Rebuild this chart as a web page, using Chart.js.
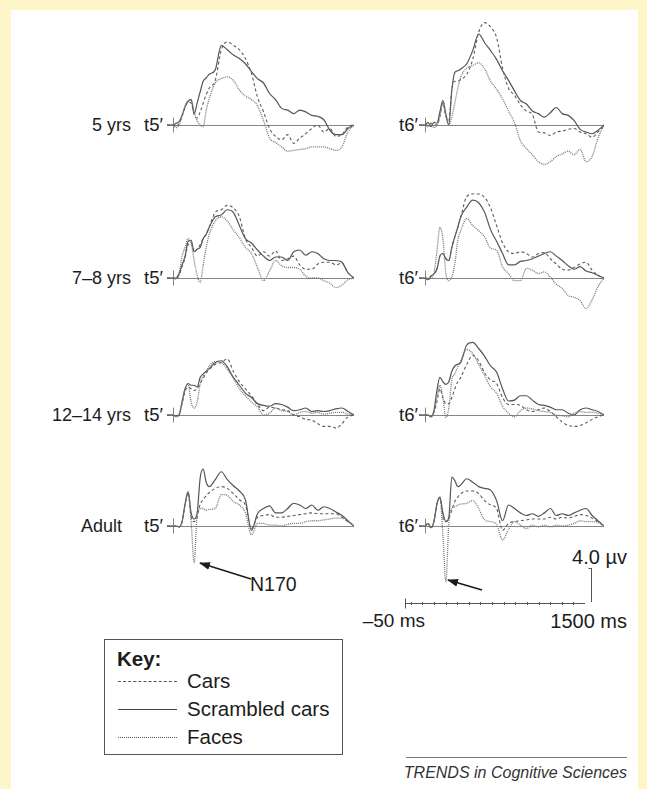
<!DOCTYPE html>
<html><head><meta charset="utf-8">
<script src="https://cdn.jsdelivr.net/npm/chart.js@4.4.1/dist/chart.umd.min.js"></script>
<style>
html,body{margin:0;padding:0;}
body{width:647px;height:789px;background:#fcf6c9;position:relative;overflow:hidden;font-family:"Liberation Sans",Arial,Helvetica,sans-serif;color:#1c1c1c;}
#sheet{position:absolute;left:11px;top:10px;width:627px;height:779px;background:#fff;}
canvas{position:absolute;}
.lbl{position:absolute;line-height:22px;white-space:nowrap;transform:translateY(-50%);}
.lbl.r{transform:translate(-100%,-50%);}
#key{position:absolute;left:104px;top:639px;width:237px;height:114px;border:1px solid #555;}
.keyrow{position:absolute;left:82px;font-size:20.5px;line-height:22px;transform:translateY(-50%);white-space:nowrap;}
.sample{position:absolute;left:13px;width:59px;height:0;}
#trends{position:absolute;left:627px;top:773px;font-size:16px;font-style:italic;color:#333;white-space:nowrap;transform:translate(-100%,-50%);}
#rule{position:absolute;left:406px;top:757px;width:221px;height:0;border-top:1px solid #777;}
svg{position:absolute;left:0;top:0;}
</style></head>
<body>
<div id="sheet"></div>
<div id="labels"></div>
<div id="key">
  <div class="keyrow" style="left:12px;top:19px;font-weight:bold;">Key:</div>
  <div class="sample" style="top:41px;border-top:1px dashed #555;"></div>
  <div class="keyrow" style="top:41px;">Cars</div>
  <div class="sample" style="top:69px;border-top:1.3px solid #444;"></div>
  <div class="keyrow" style="top:69px;">Scrambled cars</div>
  <div class="sample" style="top:97px;border-top:1px dotted #555;"></div>
  <div class="keyrow" style="top:97px;">Faces</div>
</div>
<div id="rule"></div>
<div id="trends">TRENDS in Cognitive Sciences</div>
<svg width="647" height="789">
  <defs><marker id="ah" markerWidth="11" markerHeight="8" refX="10" refY="4" orient="auto" markerUnits="userSpaceOnUse">
    <path d="M0,0 L11,4 L0,8 z" fill="#1c1c1c"/></marker></defs>
  <line x1="251" y1="579" x2="200" y2="563" stroke="#1c1c1c" stroke-width="1.7" marker-end="url(#ah)"/>
  <line x1="482" y1="590" x2="448" y2="580" stroke="#1c1c1c" stroke-width="1.7" marker-end="url(#ah)"/>
</svg>
<script>
// time points (ms)
const times = [-50,0,25,50,75,100,125,150,175,200,225,250,275,300,350,400,450,500,550,600,650,700,750,800,850,900,950,1000,1050,1100,1150,1200,1250,1300,1350,1400,1450,1500];
const rowLabels = ['5 yrs','7–8 yrs','12–14 yrs','Adult'];
const siteLabels = ['t5′','t6′'];
const seriesNames = ['Cars','Scrambled cars','Faces'];
const scaleLabels = ['4.0 µv','–50 ms','1500 ms','N170'];

// 5 yrs, t5'
const cars5T5  = [0,0,-0.2,0.2,1.0,2.0,2.6,2.5,1.2,0.8,1.5,2.5,3.5,4.2,5.1,8.6,9.5,9.1,8.6,7.6,5.9,3.2,1.5,-0.4,-1.3,-1.7,-1.1,-2.1,-1.5,-1.0,-0.4,0,-0.8,-0.4,-1.3,-1.1,-0.2,0];
const scram5T5 = [0,0,0.2,0.4,1.1,2.1,2.7,2.9,1.3,2.5,3.8,5.0,5.4,5.8,6.3,9.1,8.6,8.0,7.6,7.0,6.1,5.3,4.8,3.6,2.9,1.9,1.7,1.3,1.7,1.5,1.1,1.0,0.6,-0.6,-1.1,-1.1,-0.4,0];
const faces5T5 = [0,0,-0.3,0,1.0,2.2,2.8,2.9,1.5,0.5,0,-0.2,1.7,3.0,4.8,5.3,5.5,5.1,4.0,3.3,2.9,2.2,0.5,-1.5,-2.0,-2.5,-3.0,-2.9,-2.8,-2.7,-2.5,-2.5,-2.5,-2.7,-2.9,-2.5,-0.8,0];
// 5 yrs, t6'
const cars5T6  = [0,0,0,0.2,0,0,1.0,2.5,1.0,0.5,4.0,5.0,5.0,5.2,5.8,7.5,10.6,11.7,11.2,10.0,6.5,4.2,3.4,2.3,1.6,1.2,-0.8,-0.9,-1.2,-0.8,-0.7,-0.5,-0.4,-0.8,-1.0,-1.4,-0.8,0];
const scram5T6 = [0,0,0.3,-0.2,0.3,0.2,1.5,2.8,1.2,0,4.0,6.0,6.2,6.4,7.0,8.5,10.4,9.4,8.5,7.5,6.2,5.1,3.9,2.8,2.4,1.6,1.3,0.9,1.4,2.0,1.3,1.1,0.5,-0.5,-0.8,-1.0,-0.6,0];
const faces5T6 = [0,0,-0.2,0.2,-0.3,0,1.0,2.8,1.2,0,0.9,2.5,4.2,5.5,6.5,6.8,7.1,6.4,5.0,4.1,3.0,1.6,0.3,-1.8,-2.7,-3.4,-4.2,-4.5,-4.2,-3.6,-3.3,-3.0,-3.4,-2.8,-4.2,-3.6,-1.5,0];
// 7-8 yrs, t5'
const cars78T5  = [0,0,-0.1,0.3,1.3,2.3,3.8,4.0,3.0,3.3,3.8,4.5,5.0,5.8,7.5,7.8,8.3,8.0,7.0,4.5,3.5,2.5,3.0,2.5,3.1,2.0,2.2,2.5,1.5,1.0,1.0,1.6,1.8,1.8,1.5,1.7,0.6,0];
const scram78T5 = [0,0,0,0.5,1.5,2.5,4.2,4.3,3.0,3.3,3.5,4.5,5.0,5.8,7.0,7.2,7.8,7.5,6.0,4.5,4.0,3.2,2.5,2.0,2.4,2.4,2.0,3.0,3.2,2.6,3.0,2.8,2.2,2.0,2.0,1.8,0.6,0];
const faces78T5 = [0,0,-0.1,0.5,2.5,3.5,4.5,4.0,2.0,0.3,-0.5,1.5,3.5,5.0,6.5,7.0,6.5,5.5,4.6,3.5,2.8,1.2,-0.3,0.8,2.0,1.4,1.2,1.2,1.0,0.2,0,0,-0.3,-0.6,-1.1,-0.8,-0.2,0];
// 7-8 yrs, t6'
const cars78T6  = [0,0,0,0.2,0.5,1.0,2.5,2.8,2.2,2.0,3.5,4.7,5.8,7.0,9.3,9.6,9.6,9.2,8.0,6.0,4.0,3.0,2.8,3.0,2.8,2.4,2.8,2.9,2.2,1.6,1.0,0.9,1.2,1.6,1.8,0.9,0.3,0];
const scram78T6 = [0,0,-0.2,0.2,0.5,1.0,2.5,2.8,2.2,2.0,3.5,4.7,5.8,7.0,8.1,8.9,8.6,7.5,5.5,4.2,2.8,1.5,1.5,1.9,2.0,2.2,2.5,2.8,3.0,2.5,2.0,1.4,1.0,1.3,0.8,0.6,0.3,0];
const faces78T6 = [0,0,-0.2,0,0.5,3.0,5.8,4.5,0.5,-0.3,0.1,1.6,4.3,5.4,6.8,6.0,5.4,4.7,3.4,3.2,1.3,0.5,-0.3,-0.3,1.1,0.9,0.5,0.7,0.1,-0.7,-1.2,-2.0,-2.2,-2.6,-3.5,-2.5,-1.0,0];
// 12-14 yrs, t5'
const cars12T5  = [0,0,-0.2,0,1.3,2.7,3.2,3.0,2.8,3.0,3.6,4.2,4.8,5.2,5.8,6.0,6.4,5.0,3.8,3.0,2.2,1.2,0.5,0.9,0.8,0.6,0.5,0,-0.2,-0.5,-0.6,-1.0,-1.3,-1.3,-1.5,-1.0,-0.2,0];
const scram12T5 = [0,0,-0.1,0,1.5,3.0,3.6,3.4,3.4,3.2,4.3,4.7,5.0,5.3,6.0,6.2,5.5,4.3,3.4,2.5,2.0,1.3,1.1,1.0,1.3,1.2,0.9,0.5,0.6,0.8,0.4,0.5,0.4,0.5,0.7,0.8,0.4,0];
const faces12T5 = [0,0,-0.2,0.1,1.5,3.0,3.5,1.5,0.8,1.5,3.5,4.5,5.0,5.6,6.1,6.0,5.2,4.2,3.0,2.2,1.5,0.9,0,0.2,0.8,0.5,0.4,0,0.3,0.4,0.2,0.3,0.1,0.2,0.3,0.3,0.1,0];
// 12-14 yrs, t6'
const cars12T6  = [0,0,0,-0.2,0.3,1.5,3.0,2.0,1.3,1.3,2.0,3.0,3.8,4.3,5.8,6.8,6.2,4.8,4.0,3.6,2.0,1.2,1.2,1.1,0.6,0.4,0.6,0.8,0.4,-0.2,-0.8,-1.2,-1.3,-1.2,-0.9,-0.5,-0.2,0];
const scram12T6 = [0,0,0,-0.2,0.5,2.8,4.3,3.8,3.5,3.8,5.0,5.6,5.8,6.0,8.0,8.3,7.6,6.7,5.6,4.9,3.0,1.6,1.7,2.2,2.2,1.7,1.2,1.1,0.9,0.6,0.6,0.2,0,0.6,0.8,0.6,0.4,0];
const faces12T6 = [0,0,0,-0.2,0.3,2.0,3.4,2.0,-0.3,0.8,4.0,4.7,5.5,6.2,7.5,7.0,5.8,4.5,3.2,2.5,1.0,0.2,-0.2,0.5,0.8,0.7,0.5,0.4,0.3,0,-0.1,-0.2,0.2,0.4,0.3,0.3,0.2,0];
// Adult, t5'
const carsAdT5  = [0,0,0,-0.1,0.5,2.5,3.8,1.0,0.5,1.0,2.5,3.0,3.5,3.8,4.3,4.5,4.3,3.7,3.0,2.4,-0.3,1.0,1.2,1.3,1.0,1.0,1.1,1.2,1.3,1.4,1.5,1.4,1.4,1.4,1.4,1.0,0.5,0];
const scramAdT5 = [0,0,0,-0.1,0.5,2.5,3.9,1.5,0.8,1.5,5.5,6.5,5.0,4.5,5.3,6.2,5.3,4.6,4.0,3.0,-0.5,1.4,2.0,2.3,1.5,1.5,2.0,2.6,2.4,2.0,2.4,1.8,2.2,2.0,1.6,1.2,0.6,0];
const facesAdT5 = [0,0,0,-0.1,0.5,2.5,3.9,0.5,-4.2,1.3,2.0,2.0,1.8,1.9,2.0,3.6,3.5,2.8,2.4,1.5,-1.0,0.3,0.3,0.1,0.1,0,0.2,0.3,0.3,0.5,0.6,0.6,0.7,0.8,0.9,0.9,0.5,0];
// Adult, t6'
const carsAdT6  = [0,0,0.3,-0.2,0.5,2.5,3.2,1.0,0.5,0.9,1.8,2.8,3.3,3.7,4.0,4.0,3.7,2.9,2.4,2.0,-0.5,0.3,0.5,0.6,0.7,0.8,0.8,0.8,1.0,0.8,1.0,0.9,1.1,1.3,1.2,0.9,0.5,0];
const scramAdT6 = [0,0,0.3,-0.2,0.5,2.5,3.3,1.5,0.5,1.0,5.6,5.2,4.5,4.7,5.4,5.0,4.5,4.3,4.1,2.9,0.6,2.4,2.0,1.5,1.2,1.4,1.1,1.5,2.0,1.2,1.4,1.2,1.5,1.8,2.0,1.2,0.6,0];
const facesAdT6 = [0,0,0.3,-0.2,0.5,2.5,3.3,-1.0,-6.4,0.3,2.0,2.2,2.4,2.5,2.6,2.9,2.0,0.7,0.5,0.2,-1.6,-0.4,0.5,0.1,-0.3,0.1,-0.1,0.1,-0.1,0.1,0,0.1,0.3,0.6,0.5,0.5,0.4,0];

const panelData = [
  [[cars5T5, scram5T5, faces5T5],   [cars5T6, scram5T6, faces5T6]],
  [[cars78T5, scram78T5, faces78T5],[cars78T6, scram78T6, faces78T6]],
  [[cars12T5, scram12T5, faces12T5],[cars12T6, scram12T6, faces12T6]],
  [[carsAdT5, scramAdT5, facesAdT5],[carsAdT6, scramAdT6, facesAdT6]]
];

// ---------- layout ----------
const PX_PER_UV = 8.75, Y_MIN = -8, Y_MAX = 12;
const colLeft = [167, 419], colWidth = [187, 185];
const rowBase = [125, 278, 415, 526];
const rowLabelRight = [131, 131, 131, 122];
const siteRight = [163, 418];
const styles = [
  {borderColor:'#5c5c5c', borderWidth:1.1, borderDash:[3,2.5]},
  {borderColor:'#555', borderWidth:1.2, borderDash:[]},
  {borderColor:'#767676', borderWidth:1.3, borderDash:[1,1]}
];
Chart.defaults.font.family = '"Liberation Sans", Arial, sans-serif';

const axisPlugin = {
  id:'erpAxis',
  beforeDatasetsDraw(chart){
    const {ctx, scales:{x,y}} = chart;
    const y0 = Math.round(y.getPixelForValue(0)) + 0.5;
    const xc = Math.round(x.getPixelForValue(0)) + 0.5;
    ctx.save();
    ctx.strokeStyle = '#858585'; ctx.lineWidth = 1;
    ctx.beginPath();
    ctx.moveTo(x.getPixelForValue(x.min), y0); ctx.lineTo(x.getPixelForValue(x.max), y0);
    ctx.moveTo(xc, y.getPixelForValue(0.85)); ctx.lineTo(xc, y.getPixelForValue(-0.85));
    ctx.stroke();
    ctx.restore();
  }
};

const labelsDiv = document.getElementById('labels');
function addLabel(text, x, cy, size, right){
  const d = document.createElement('div');
  d.className = 'lbl' + (right ? ' r' : ''); d.textContent = text;
  d.style.left = x + 'px'; d.style.top = cy + 'px'; d.style.fontSize = size + 'px';
  labelsDiv.appendChild(d);
  return d;
}

panelData.forEach((row, r) => {
  addLabel(rowLabels[r], rowLabelRight[r], rowBase[r], 18, true);
  row.forEach((series, c) => {
    addLabel(siteLabels[c], siteRight[c], rowBase[r], 18.5, true);
    const cv = document.createElement('canvas');
    const h = (Y_MAX - Y_MIN) * PX_PER_UV;
    cv.width = colWidth[c]; cv.height = h;
    cv.style.left = colLeft[c] + 'px';
    cv.style.top = (rowBase[r] - Y_MAX * PX_PER_UV) + 'px';
    cv.style.width = colWidth[c] + 'px'; cv.style.height = h + 'px';
    document.body.appendChild(cv);
    const order = [2, 0, 1];
    new Chart(cv, {
      type: 'line',
      data: { datasets: order.map(k => Object.assign({
        label: seriesNames[k],
        data: times.map((t, i) => ({x: t, y: series[k][i]})),
        fill: false, pointRadius: 0, cubicInterpolationMode: 'monotone'
      }, styles[k])) },
      options: {
        responsive: false, animation: false, devicePixelRatio: 1,
        layout: {padding: 0},
        plugins: {legend: {display: false}, tooltip: {enabled: false}},
        scales: {
          x: {type: 'linear', min: -50, max: 1500, display: false},
          y: {type: 'linear', min: Y_MIN, max: Y_MAX, display: false}
        }
      },
      plugins: [axisPlugin]
    });
  });
});

// ---------- calibration scale bar ----------
const barTicks = [0,100,200,300,400,500,600,700,800,900,1000,1100,1200,1300,1400];
const sb = document.createElement('canvas');
sb.width = 200; sb.height = 52;
sb.style.left = '400px'; sb.style.top = '560px'; sb.style.width = '200px'; sb.style.height = '52px';
document.body.appendChild(sb);
const scaleBarPlugin = {
  id:'scaleBar',
  afterDraw(chart){
    const {ctx, scales:{x,y}} = chart;
    const y0 = Math.round(y.getPixelForValue(0)) + 0.5;
    const xs = Math.round(x.getPixelForValue(-50)) + 0.5;
    const xe = x.getPixelForValue(1500);
    const xv = Math.round(xe) + 6.5;
    ctx.save();
    ctx.strokeStyle = '#555'; ctx.lineWidth = 1;
    ctx.beginPath();
    ctx.moveTo(xs, y0); ctx.lineTo(xe, y0);
    ctx.moveTo(xs, y0 - 5); ctx.lineTo(xs, y0 + 5);
    barTicks.forEach(t => {
      const px = Math.round(x.getPixelForValue(t)) + 0.5;
      ctx.moveTo(px, y0 - 1.5); ctx.lineTo(px, y0 + 1.5);
    });
    ctx.moveTo(xv, y.getPixelForValue(0) - 1); ctx.lineTo(xv, y.getPixelForValue(4));
    ctx.moveTo(xv, Math.round(y.getPixelForValue(4)) + 0.5); ctx.lineTo(xv - 3, Math.round(y.getPixelForValue(4)) + 0.5);
    ctx.stroke();
    ctx.restore();
  }
};
new Chart(sb, {
  type: 'line',
  data: {datasets: []},
  options: {
    responsive: false, animation: false, devicePixelRatio: 1,
    layout: {padding: {left: 5, right: 15, top: 8, bottom: 9}},
    plugins: {legend: {display: false}, tooltip: {enabled: false}},
    scales: {
      x: {type: 'linear', min: -50, max: 1500, display: false},
      y: {type: 'linear', min: 0, max: 4, display: false}
    }
  },
  plugins: [scaleBarPlugin]
});

addLabel(scaleLabels[0], 627, 557, 20, true);
addLabel(scaleLabels[1], 425, 621, 19, true);
addLabel(scaleLabels[2], 627, 621, 20, true);
addLabel(scaleLabels[3], 250, 584, 19.5, false);
</script>
</body></html>
